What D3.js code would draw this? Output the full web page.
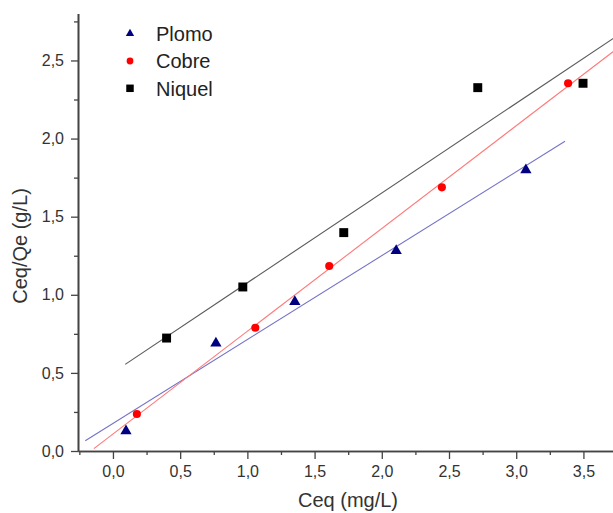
<!DOCTYPE html>
<html>
<head>
<meta charset="utf-8">
<script src="https://cdn.jsdelivr.net/npm/d3@7/dist/d3.min.js"></script>
<style>
  html, body { margin: 0; padding: 0; background: #fff; }
  svg { display: block; font-family: "Liberation Sans", Arial, sans-serif; }
</style>
</head>
<body>
<svg id="chart" width="613" height="513"></svg>
<script>
// Isotherm data: Ceq (mg/L) vs Ceq/Qe (g/L)
const seriesNames = ["Plomo", "Cobre", "Niquel"];
const plomoX  = [0.097, 0.766, 1.353, 2.107, 3.072];
const plomoY  = [0.128, 0.689, 0.956, 1.282, 1.799];
const cobreX  = [0.178, 1.059, 1.609, 2.447, 3.386];
const cobreY  = [0.237, 0.789, 1.184, 1.688, 2.354];
const niquelX = [0.399, 0.966, 1.717, 2.714, 3.497];
const niquelY = [0.723, 1.050, 1.398, 2.326, 2.354];
// x-range covered by each fitted line
const fitFrom = [-0.206, -0.142, 0.091];
const fitTo   = [3.363, 3.80, 3.80];
const xMajorTicks = [0, 0.5, 1, 1.5, 2, 2.5, 3, 3.5];
const yMajorTicks = [0, 0.5, 1, 1.5, 2, 2.5];

const svg = d3.select("#chart");
const plotLeft = 78, plotRight = 613, plotTop = 13.6, plotBottom = 451;

const x = d3.scaleLinear().domain([-0.26, 3.72]).range([plotLeft, plotRight]);
const y = d3.scaleLinear().domain([0, 2.8]).range([plotBottom, plotTop]);

const fmt = v => d3.format(".1f")(v).replace(".", ",");

const series = [
  { name: seriesNames[0], xs: plomoX,  ys: plomoY,  sym: d3.symbolTriangle, size: 55, legSize: 30, fill: "#000080", line: "#7474c8" },
  { name: seriesNames[1], xs: cobreX,  ys: cobreY,  sym: d3.symbolCircle,   size: 52, legSize: 36, fill: "#ff0000", line: "#ff7878" },
  { name: seriesNames[2], xs: niquelX, ys: niquelY, sym: d3.symbolSquare,   size: 80, legSize: 56, fill: "#000000", line: "#5a5a5a" }
];

// least-squares fit for each series
function linFit(xs, ys) {
  const mx = d3.mean(xs), my = d3.mean(ys);
  let sxy = 0, sxx = 0;
  xs.forEach((v, i) => { sxy += (v - mx) * (ys[i] - my); sxx += (v - mx) * (v - mx); });
  const slope = sxy / sxx;
  return { slope, intercept: my - slope * mx };
}

svg.append("defs").append("clipPath").attr("id", "plot")
  .append("rect").attr("x", plotLeft).attr("y", 0).attr("width", plotRight - plotLeft).attr("height", plotBottom);

// fit lines
const lineGen = d3.line().x(d => x(d[0])).y(d => y(d[1]));
series.forEach((s, i) => {
  const f = linFit(s.xs, s.ys);
  const pts = [fitFrom[i], fitTo[i]].map(v => [v, f.intercept + f.slope * v]);
  svg.append("path")
    .attr("clip-path", "url(#plot)")
    .attr("d", lineGen(pts))
    .attr("fill", "none")
    .attr("stroke", s.line)
    .attr("stroke-width", 1.1);
});

// axes: minor ticks first, then major ticks with labels
function styleAxis(g) {
  g.selectAll("path.domain").attr("stroke", "#444").attr("stroke-width", 1.6);
  g.selectAll(".tick line").attr("stroke", "#444").attr("stroke-width", 1.3);
  g.selectAll(".tick text").attr("fill", "#333").style("font-size", "16px")
    .style("font-family", "'Liberation Sans', Arial, sans-serif");
}

const xMinor = d3.range(-0.25, 3.76, 0.5);
const yMinor = d3.range(0.25, 2.76, 0.5);

svg.append("g").attr("transform", `translate(0,${plotBottom})`)
  .call(d3.axisBottom(x).tickValues(xMinor).tickSize(4).tickSizeOuter(0).tickFormat(""))
  .call(styleAxis);
svg.append("g").attr("transform", `translate(0,${plotBottom})`)
  .call(d3.axisBottom(x).tickValues(xMajorTicks).tickSize(8).tickPadding(7).tickSizeOuter(0).tickFormat(fmt))
  .call(styleAxis);

svg.append("g").attr("transform", `translate(${plotLeft},0)`)
  .call(d3.axisLeft(y).tickValues(yMinor).tickSize(4).tickSizeOuter(0).tickFormat(""))
  .call(styleAxis);
svg.append("g").attr("transform", `translate(${plotLeft},0)`)
  .call(d3.axisLeft(y).tickValues(yMajorTicks).tickSize(7).tickPadding(7).tickSizeOuter(0).tickFormat(fmt))
  .call(styleAxis);

// data markers
series.forEach(s => {
  svg.append("g").selectAll("path")
    .data(s.xs.map((v, i) => [v, s.ys[i]]))
    .join("path")
    .attr("transform", d => `translate(${x(d[0])},${y(d[1])})`)
    .attr("d", d3.symbol().type(s.sym).size(s.size))
    .attr("fill", s.fill);
});

// axis titles
svg.append("text")
  .attr("x", 348).attr("y", 507)
  .attr("text-anchor", "middle")
  .attr("fill", "#333")
  .style("font-size", "20px")
  .text("Ceq (mg/L)");

svg.append("text")
  .attr("transform", "translate(27,246) rotate(-90)")
  .attr("text-anchor", "middle")
  .attr("fill", "#333")
  .style("font-size", "20px")
  .text("Ceq/Qe (g/L)");

// legend
const legend = svg.append("g");
const legRows = [33.5, 61, 88.3];
series.forEach((s, i) => {
  legend.append("path")
    .attr("transform", `translate(130,${legRows[i]})`)
    .attr("d", d3.symbol().type(s.sym).size(s.legSize))
    .attr("fill", s.fill);
  legend.append("text")
    .attr("x", 156).attr("y", legRows[i])
    .attr("dy", "0.36em")
    .attr("fill", "#222")
    .style("font-size", "20px")
    .text(s.name);
});
</script>
</body>
</html>
